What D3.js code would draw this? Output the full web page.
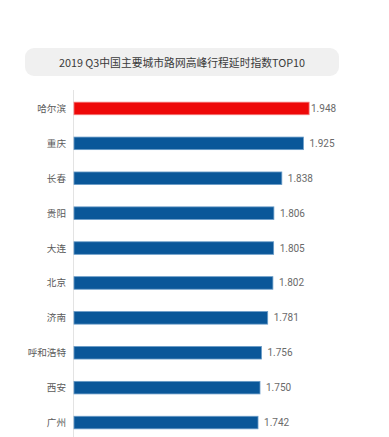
<!DOCTYPE html>
<html>
<head>
<meta charset="utf-8">
<script src="https://cdn.jsdelivr.net/npm/d3@7"></script>
<style>
  body { margin: 0; background: #fff; }
  svg { display: block; font-family: "Noto Sans CJK SC", "Noto Sans", sans-serif; }
</style>
</head>
<body>
<svg width="389" height="437"></svg>
<script>
const cities = ['哈尔滨', '重庆', '长春', '贵阳', '大连', '北京', '济南', '呼和浩特', '西安', '广州'];
const values = [1.948, 1.925, 1.838, 1.806, 1.805, 1.802, 1.781, 1.756, 1.750, 1.742];
const title = '2019 Q3中国主要城市路网高峰行程延时指数TOP10';

const svg = d3.select('svg');
const width = +svg.attr('width');
const height = +svg.attr('height');

// title pill
svg.append('rect')
    .attr('x', 25).attr('y', 48)
    .attr('width', 314).attr('height', 28)
    .attr('rx', 9)
    .attr('fill', '#f0f0f0');
svg.append('text')
    .attr('x', 182).attr('y', 66.5)
    .attr('text-anchor', 'middle')
    .attr('font-size', 10.8)
    .attr('fill', '#3a3a3a')
    .text(title);

const x = d3.scaleLinear().domain([1, 2]).range([74, 322]);
const y = d3.scaleBand().domain(cities).range([91, 440]).paddingInner(0.64).paddingOuter(0.32);

// axis line
svg.append('line')
    .attr('x1', 73.5).attr('x2', 73.5)
    .attr('y1', 90).attr('y2', height)
    .attr('stroke', '#e3e3e3');

const rows = svg.selectAll('g.row')
    .data(cities)
    .join('g')
    .attr('class', 'row');

rows.append('rect')
    .attr('x', x(1))
    .attr('y', d => y(d))
    .attr('width', (d, i) => x(values[i]) - x(1))
    .attr('height', y.bandwidth())
    .attr('fill', (d, i) => i === 0 ? '#ee0808' : '#0a5799')
    .attr('stroke', (d, i) => i === 0 ? '#f47a7a' : '#6a9cc8')
    .attr('stroke-width', 0.8);

rows.append('text')
    .attr('x', 66)
    .attr('y', d => y(d) + y.bandwidth() / 2 + 3.5)
    .attr('text-anchor', 'end')
    .attr('font-size', 9.6)
    .attr('fill', '#5a5a5a')
    .text(d => d);

rows.append('text')
    .attr('x', (d, i) => Math.min(x(values[i]) + 6, 311))
    .attr('y', d => y(d) + y.bandwidth() / 2 + 3.5)
    .attr('font-family', 'Roboto, sans-serif')
    .attr('font-size', 10)
    .attr('fill', '#6a6a6a')
    .text((d, i) => values[i].toFixed(3));
</script>
</body>
</html>
